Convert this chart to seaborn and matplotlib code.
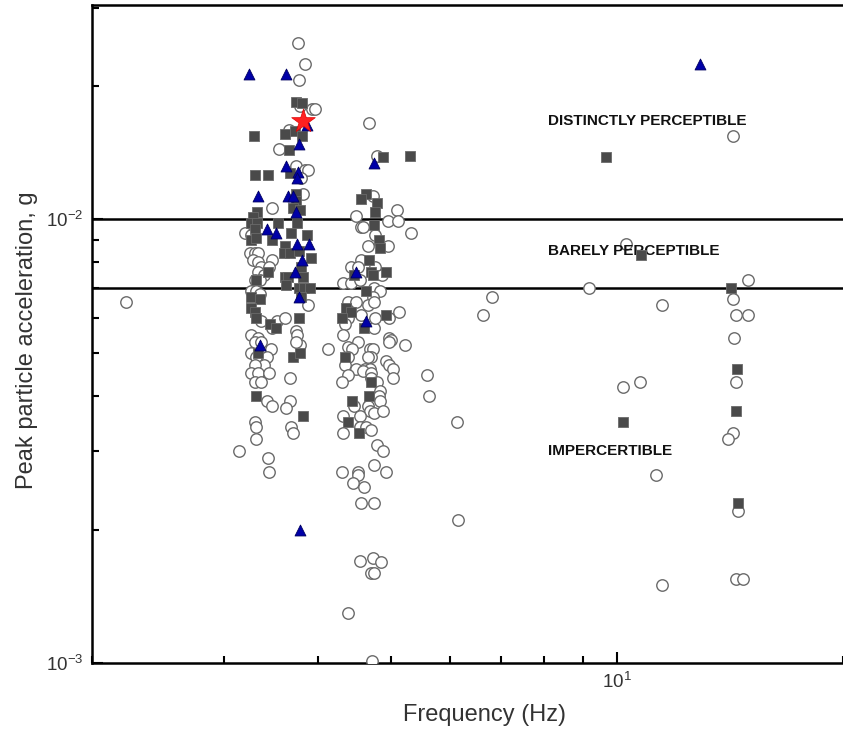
import numpy as np
import pandas as pd
import seaborn as sns
import matplotlib
matplotlib.use("Agg")
import matplotlib.pyplot as plt
from matplotlib.ticker import LogLocator, NullFormatter, FuncFormatter

# ---- data (frequency in Hz, acceleration in g) ----
circle_freq = [3.76, 3.84, 3.77, 3.79, 3.93, 3.96, 3.66, 3.55, 3.74, 3.84, 3.88, 3.80, 3.82, 3.47,
               3.20, 3.26, 3.25, 3.30, 3.33, 3.28, 3.33, 3.47, 3.36, 3.44, 3.33, 3.39, 3.30, 3.35,
               3.26, 3.31, 3.35, 3.88, 3.36, 3.53, 3.62, 3.47, 3.74, 3.75, 3.26, 3.33, 3.30, 3.36,
               3.79, 4.12, 3.46, 3.26, 3.42, 3.31, 3.39, 3.30, 3.26, 3.33, 3.44, 3.74, 3.67, 3.30,
               3.36, 3.42, 3.47, 3.67, 3.63, 3.30, 3.31, 3.68, 3.70, 3.31, 3.14, 3.43, 3.44,
               4.68, 4.79, 4.73, 5.10, 4.50, 4.96, 5.11, 4.56, 4.59, 5.32, 4.76, 4.66, 4.95, 4.56,
               4.42, 4.52, 4.76, 4.87, 4.32, 4.42, 4.55, 4.75, 4.84, 4.73, 4.39, 4.49, 4.66, 4.75,
               4.56, 4.38, 4.35, 4.32, 4.75, 4.76, 4.97, 5.13, 4.52, 4.98, 5.00, 5.22, 4.97, 4.38,
               4.44, 4.69, 4.73, 4.70, 4.66, 4.39, 4.35, 4.92, 4.97, 5.04, 4.49, 4.62, 4.69, 4.59,
               4.39, 4.30, 4.70, 4.70, 5.04, 5.58, 4.80, 4.83, 5.62, 4.82, 4.83, 4.47, 4.66, 4.69,
               4.75, 4.88, 4.32, 4.55, 4.55, 4.63, 4.32, 4.70, 4.79, 4.88, 4.31, 4.52, 4.52, 4.45,
               4.61, 4.75, 4.92, 4.56, 4.75, 4.55, 4.74, 4.85, 4.70, 4.75, 4.38, 4.72,
               2.22, 6.81, 6.63, 6.12, 6.14, 9.18, 10.27, 11.5, 10.18, 10.72, 11.29, 11.47,
               14.27, 14.94, 14.27, 14.40, 14.94, 14.31, 14.40, 14.27, 14.05, 14.49, 14.40, 14.72]
circle_acc = [0.0250, 0.0224, 0.0206, 0.0180, 0.0177, 0.0177, 0.0159, 0.0144, 0.0132, 0.0129, 0.0129,
              0.0124, 0.0114, 0.0106, 0.0093, 0.0092, 0.0084, 0.0084, 0.0084, 0.0081, 0.0080, 0.0081,
              0.0078, 0.0078, 0.0076, 0.0075, 0.0073, 0.0073, 0.0069, 0.0069, 0.0068, 0.0064, 0.0059,
              0.0059, 0.0060, 0.0057, 0.0056, 0.0055, 0.0055, 0.0054, 0.0053, 0.0053, 0.0052, 0.0051,
              0.0051, 0.0050, 0.0049, 0.0049, 0.0047, 0.0047, 0.0045, 0.0045, 0.0045, 0.0053, 0.0044,
              0.0043, 0.0043, 0.0039, 0.0038, 0.0039, 0.00375, 0.0035, 0.0034, 0.0034, 0.0033, 0.0032,
              0.0030, 0.0029, 0.0027,
              0.0165, 0.0139, 0.0113, 0.0105, 0.0102, 0.0099, 0.0099, 0.0096, 0.0096, 0.0093, 0.0092,
              0.0087, 0.0087, 0.0081, 0.0078, 0.0078, 0.0078, 0.0075, 0.0072, 0.0072, 0.0073, 0.0070,
              0.0069, 0.0067, 0.0065, 0.0065, 0.0064, 0.0065, 0.0061, 0.0060, 0.0058, 0.0055, 0.0057,
              0.0060, 0.0060, 0.0062, 0.0053, 0.0054, 0.00535, 0.0052, 0.0053, 0.00515, 0.0051, 0.0051,
              0.0051, 0.0049, 0.0049, 0.0049, 0.0047, 0.0048, 0.0047, 0.0046, 0.0046, 0.0046, 0.0046,
              0.00455, 0.00445, 0.0043, 0.0045, 0.0044, 0.0044, 0.00445, 0.0043, 0.0041, 0.0040, 0.0040,
              0.0039, 0.0038, 0.0038, 0.0037, 0.00366, 0.0037, 0.0036, 0.0036, 0.0034, 0.0034, 0.0033,
              0.00335, 0.0031, 0.0030, 0.0027, 0.0027, 0.00266, 0.00255, 0.0025, 0.0028, 0.0027, 0.0023,
              0.0023, 0.0017, 0.00173, 0.00169, 0.0016, 0.0016, 0.0013, 0.00101,
              0.0065, 0.0067, 0.0061, 0.0035, 0.0021, 0.0070, 0.0088, 0.0064, 0.0042, 0.0043, 0.00265,
              0.0015, 0.0154, 0.0073, 0.0066, 0.0061, 0.0061, 0.0054, 0.0043, 0.0033, 0.0032, 0.0022,
              0.00155, 0.00155]

square_freq = [3.74, 3.81, 3.29, 3.62, 3.73, 3.81, 3.66, 3.30, 3.43, 3.67, 3.74, 3.74, 3.70, 3.79,
               3.32, 3.28, 3.26, 3.32, 3.54, 3.75, 3.30, 3.26, 3.31, 3.47, 3.68, 3.87, 3.62, 3.60,
               3.67, 3.77, 3.92, 3.43, 3.80, 3.62, 3.65, 3.82, 3.31, 3.63, 3.77, 3.83, 3.90, 3.80,
               3.26, 3.35, 3.26, 3.30, 3.31, 3.45, 3.52, 3.77, 3.33, 3.70, 3.78, 3.31, 3.82,
               4.88, 5.31, 4.64, 4.56, 4.80, 4.77, 4.75, 4.82, 4.83, 4.68, 4.47, 4.70, 4.74, 4.92,
               4.64, 4.36, 4.42, 4.31, 4.61, 4.92, 4.34, 4.70, 4.67, 4.44, 4.38, 4.53,
               9.67, 10.78, 14.18, 14.45, 14.40, 10.18, 14.49]
square_acc = [0.0184, 0.0183, 0.0154, 0.0156, 0.0158, 0.0154, 0.0143, 0.0126, 0.0126, 0.0127, 0.0114,
              0.0110, 0.0106, 0.0105, 0.0104, 0.0101, 0.0098, 0.0098, 0.0098, 0.0098, 0.0095, 0.0090,
              0.0091, 0.0090, 0.0093, 0.0092, 0.0087, 0.0084, 0.0084, 0.0085, 0.0082, 0.0076, 0.0078,
              0.0074, 0.0074, 0.0074, 0.0073, 0.0071, 0.0070, 0.0070, 0.0070, 0.0067, 0.0067, 0.0066,
              0.0063, 0.0062, 0.0060, 0.0058, 0.0057, 0.0060, 0.0050, 0.0049, 0.0050, 0.0040, 0.0036,
              0.0138, 0.0139, 0.0114, 0.0111, 0.0109, 0.0104, 0.0097, 0.0090, 0.0086, 0.0081, 0.0075,
              0.0076, 0.0075, 0.0076, 0.0069, 0.0063, 0.0062, 0.0060, 0.0057, 0.0061, 0.0049, 0.0043,
              0.0040, 0.0039, 0.0035, 0.0033,
              0.0138, 0.0083, 0.0070, 0.0046, 0.0037, 0.0035, 0.0023]

triangle_freq = [3.24, 3.63, 3.87, 3.77, 3.63, 3.76, 3.75, 3.33, 3.65, 3.71, 3.74, 3.42, 3.52, 3.75,
                 3.89, 3.81, 3.73, 3.77, 3.35, 3.78, 4.75, 4.49, 4.64, 12.91]
triangle_acc = [0.0213, 0.0213, 0.0163, 0.0148, 0.0132, 0.0128, 0.0124, 0.0113, 0.0113, 0.0113,
                0.0104, 0.0095, 0.0093, 0.0088, 0.0088, 0.0081, 0.0076, 0.0067, 0.0052, 0.0020,
                0.0134, 0.0076, 0.0059, 0.0224]

star_freq = [3.82]
star_acc = [0.0167]

threshold_acc = [0.01, 0.007]
zone_labels = ["DISTINCTLY PERCEPTIBLE", "BARELY PERCEPTIBLE", "IMPERCERTIBLE"]
zone_label_acc = [0.0167, 0.0085, 0.0030]
zone_label_freq = 8.1

# ---- style ----
sns.set_style("white")
plt.rcParams["font.family"] = ["Liberation Sans", "DejaVu Sans"]
plt.rcParams["mathtext.fontset"] = "custom"
plt.rcParams["mathtext.rm"] = "Liberation Sans"
plt.rcParams["mathtext.it"] = "Liberation Sans"

fig = plt.figure(figsize=(8.43, 7.36), dpi=100)
ax = fig.add_axes([0.109, 0.099, 0.891, 0.894])

for acc in threshold_acc:
    ax.axhline(acc, color="black", lw=1.8, zorder=1)

sns.scatterplot(x=circle_freq, y=circle_acc, marker="o", s=68, color="white",
                edgecolor="#6a6a6a", linewidth=1.0, ax=ax, zorder=3)
sns.scatterplot(x=square_freq, y=square_acc, marker="s", s=42, color="#4a4a4a",
                edgecolor="#6a6a6a", linewidth=0.6, ax=ax, zorder=4)
sns.scatterplot(x=triangle_freq, y=triangle_acc, marker="^", s=62, color="#0000a8",
                edgecolor="#000060", linewidth=0.6, ax=ax, zorder=5)
sns.scatterplot(x=star_freq, y=star_acc, marker="*", s=320, color="#ff2020",
                edgecolor="#e00000", linewidth=0.5, ax=ax, zorder=6)

for lab, acc in zip(zone_labels, zone_label_acc):
    ax.text(zone_label_freq, acc, lab, ha="left", va="center", fontsize=11,
            fontweight="bold", color="#111111")

ax.set_xscale("log")
ax.set_yscale("log")
ax.set_xlim(2, 20)
ax.set_ylim(0.001, 0.0304)

fmt = FuncFormatter(lambda v, p: r"$10^{%d}$" % int(round(np.log10(v))))
ax.xaxis.set_major_locator(LogLocator(base=10))
ax.yaxis.set_major_locator(LogLocator(base=10))
ax.xaxis.set_major_formatter(fmt)
ax.yaxis.set_major_formatter(fmt)
ax.xaxis.set_minor_formatter(NullFormatter())
ax.yaxis.set_minor_formatter(NullFormatter())

ax.tick_params(which="both", direction="in", width=1.5, colors="black",
               labelcolor="#333333", labelsize=13.5, top=False, right=False,
               bottom=True, left=True)
ax.tick_params(which="major", length=8, pad=6)
ax.tick_params(which="minor", length=5)

for side in ["left", "bottom", "top"]:
    ax.spines[side].set_linewidth(1.8)
    ax.spines[side].set_color("black")
ax.spines["right"].set_visible(False)

ax.set_xlabel("Frequency (Hz)", fontsize=17, color="#333333")
ax.set_ylabel("Peak particle acceleration, g", fontsize=17, color="#333333")
ax.xaxis.set_label_coords(0.523, -0.062)
ax.yaxis.set_label_coords(-0.072, 0.491)

fig.savefig("out.png", dpi=100)
